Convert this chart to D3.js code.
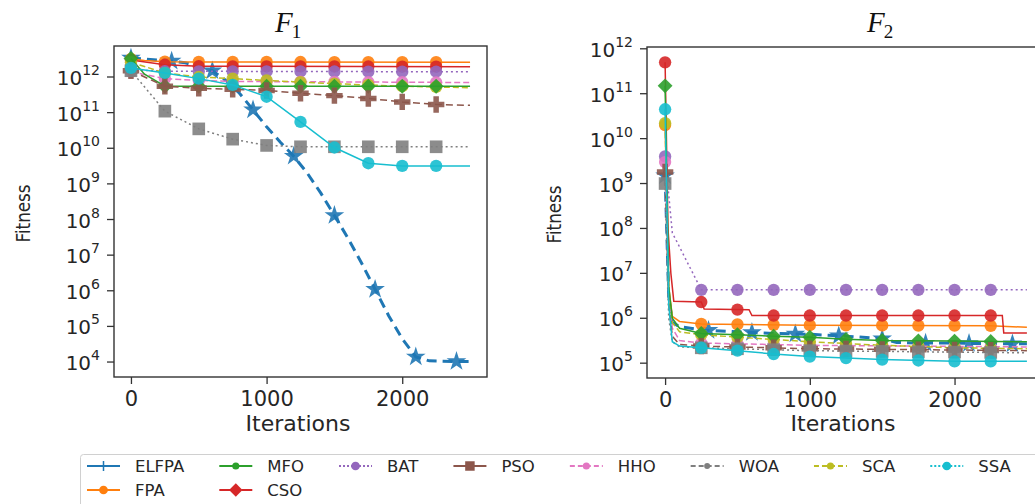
<!DOCTYPE html>
<html>
<head>
<meta charset="utf-8">
<script src="https://cdn.jsdelivr.net/npm/d3@7"></script>
<style>
body{margin:0;background:#fff;}
text{fill:#262626;}
</style>
</head>
<body>
<svg id="chart" width="1035" height="504" font-family="DejaVu Sans, sans-serif"></svg>
<script>
// algorithm names, in legend order
var algorithms = ["ELFPA","FPA","MFO","CSO","BAT","PSO","HHO","WOA","SCA","SSA"];
var xTicks = [0, 1000, 2000];
var f1Exponents = [4,5,6,7,8,9,10,11,12];
var f2Exponents = [5,6,7,8,9,10,11,12];

// F1 convergence curves: [iteration, fitness]
var f1ELFPA = [[0,3.4e12],[100,3.2e12],[200,3.0e12],[300,2.8e12],[400,2.5e12],[500,2.0e12],[600,1.5e12],[700,8e11],[800,3.5e11],[900,1.2e11],[1000,4e10],[1100,1.5e10],[1200,6e9],[1300,2e9],[1400,5.5e8],[1500,1.3e8],[1600,3e7],[1700,6e6],[1800,1.1e6],[1900,2e5],[2000,4.5e4],[2100,1.4e4],[2200,1.08e4],[2300,1.05e4],[2400,1.04e4],[2500,1.04e4]];
var f1FPA = [[0,3.2e12],[100,2.9e12],[250,2.7e12],[500,2.65e12],[2500,2.6e12]];
var f1MFO = [[0,3.3e12],[100,1.2e12],[250,5.5e11],[2500,5.5e11]];
var f1CSO = [[0,3.0e12],[250,2.2e12],[500,2.0e12],[2500,1.95e12]];
var f1BAT = [[0,1.6e12],[250,1.45e12],[2500,1.4e12]];
var f1PSO = [[0,1.5e12],[250,5.5e11],[500,4.8e11],[750,4.5e11],[1000,4.2e11],[1250,3.5e11],[1500,3e11],[1750,2.5e11],[2000,2e11],[2250,1.7e11],[2500,1.6e11]];
var f1HHO = [[0,1.4e12],[250,9e11],[500,8e11],[750,7.5e11],[2500,7e11]];
var f1WOA = [[0,1.5e12],[250,1.1e11],[500,3.5e10],[750,1.8e10],[1000,1.2e10],[1250,1.1e10],[2500,1.1e10]];
var f1SCA = [[0,2.6e12],[250,1.3e12],[500,1.0e12],[750,9e11],[1000,8e11],[1500,6.5e11],[2000,5.5e11],[2500,5e11]];
var f1SSA = [[0,1.8e12],[250,1.3e12],[500,9e11],[750,6e11],[1000,2.8e11],[1250,5.5e10],[1500,1.05e10],[1750,3.8e9],[2000,3.2e9],[2500,3.2e9]];

// F2 convergence curves
var f2ELFPA = [[0,1.5e9],[25,3e6],[50,8e5],[100,6.5e5],[250,5.5e5],[500,5e5],[750,4.6e5],[1000,4.4e5],[1250,4e5],[1500,3.5e5],[1600,2.9e5],[1750,2.8e5],[2000,2.8e5],[2250,2.7e5],[2500,2.7e5]];
var f2FPA = [[0,2e10],[25,5e6],[50,1.1e6],[100,8.5e5],[250,7.5e5],[1000,7e5],[2250,6.8e5],[2400,6.5e5],[2500,6.3e5]];
var f2MFO = [[0,1.5e11],[25,5e6],[50,1e6],[100,6e5],[250,4.6e5],[500,4.3e5],[750,4e5],[1000,3.8e5],[1250,3.4e5],[1500,3.2e5],[2000,3.1e5],[2500,3e5]];
var f2CSO = [[0,5e11],[20,1e8],[40,1e7],[60,2.4e6],[250,2.3e6],[270,1.6e6],[580,1.55e6],[600,1.15e6],[2330,1.15e6],[2340,4.7e5],[2500,4.7e5]];
var f2BAT = [[0,4e9],[50,8e7],[250,4.3e6],[2500,4.3e6]];
var f2PSO = [[0,1.8e9],[25,2e6],[50,4e5],[100,2.6e5],[250,2.4e5],[1000,2.1e5],[2500,1.9e5]];
var f2HHO = [[0,3e9],[25,4e6],[50,6e5],[100,3.2e5],[250,2.8e5],[1000,2.5e5],[2500,2.3e5]];
var f2WOA = [[0,1e9],[25,1e6],[50,3e5],[100,2.3e5],[250,2.2e5],[1000,1.9e5],[2500,1.7e5]];
var f2SCA = [[0,2.2e10],[25,3e6],[50,8e5],[100,5e5],[250,4.3e5],[500,3.8e5],[1000,3e5],[1500,2.5e5],[2000,2.2e5],[2500,2.1e5]];
var f2SSA = [[0,4.5e10],[25,2e6],[50,3e5],[100,2.4e5],[250,2.2e5],[500,1.9e5],[750,1.6e5],[1000,1.4e5],[1250,1.3e5],[1500,1.2e5],[2000,1.1e5],[2500,1.1e5]];

var f1Series = [f1ELFPA,f1FPA,f1MFO,f1CSO,f1BAT,f1PSO,f1HHO,f1WOA,f1SCA,f1SSA];
var f2Series = [f2ELFPA,f2FPA,f2MFO,f2CSO,f2BAT,f2PSO,f2HHO,f2WOA,f2SCA,f2SSA];

// look of each algorithm (plot + legend)
var styles = {
  ELFPA:{color:"#1f77b4", dash:"10,6", width:3,   marker:"star",    every:300, lDash:null,    lMarker:"vline"},
  FPA:  {color:"#ff7f0e", dash:null,   width:1.5, marker:"circle",  every:250, lDash:null,    lMarker:"circle"},
  MFO:  {color:"#2ca02c", dash:null,   width:1.5, marker:"diamond", every:250, lDash:null,    lMarker:"smallcircle"},
  CSO:  {color:"#d62728", dash:null,   width:1.5, marker:"circle",  every:250, lDash:"14,3,2,3", lMarker:"diamond"},
  BAT:  {color:"#9467bd", dash:"2,3",  width:1.5, marker:"circle",  every:250, lDash:"2,2",   lMarker:"circle"},
  PSO:  {color:"#8c564b", dash:"7,4",  width:1.5, marker:"plus",    every:250, lDash:null,    lMarker:"square"},
  HHO:  {color:"#e377c2", dash:"6,3",  width:1.5, marker:"circle",  every:250, lDash:"5,3",   lMarker:"smallcircle"},
  WOA:  {color:"#7f7f7f", dash:"2,3",  width:1.5, marker:"square",  every:250, lDash:"5,3",   lMarker:"tinycircle"},
  SCA:  {color:"#bcbd22", dash:"6,3",  width:1.5, marker:"circle",  every:250, lDash:"5,3",   lMarker:"smallcircle"},
  SSA:  {color:"#17becf", dash:null,   width:1.5, marker:"circle",  every:250, lDash:"2,2",   lMarker:"circle"}
};
var drawOrder = ["ELFPA","FPA","CSO","BAT","HHO","SCA","MFO","PSO","WOA","SSA"];

var svg = d3.select("#chart");

var symbolPath = function(shape){
  if(shape=="circle") return d3.symbol(d3.symbolCircle, 120)();
  if(shape=="smallcircle") return d3.symbol(d3.symbolCircle, 44)();
  if(shape=="tinycircle") return d3.symbol(d3.symbolCircle, 30)();
  if(shape=="square") return d3.symbol(d3.symbolSquare, 160)();
  if(shape=="diamond") return d3.symbol(d3.symbolSquare, 110)();
  if(shape=="plus") return d3.symbol(d3.symbolCross, 150)();
  if(shape=="star") return d3.symbol(d3.symbolStar, 120)();
  return "M0,-5V5";
};

// position on a curve at a given iteration (for markevery style markers)
var valueAt = function(series, it){
  for(var k=1;k<series.length;k++){
    if(it<=series[k][0]){
      var a=series[k-1], b=series[k];
      var t=(it-a[0])/(b[0]-a[0]);
      return Math.pow(10, Math.log10(a[1])+t*(Math.log10(b[1])-Math.log10(a[1])));
    }
  }
  return series[series.length-1][1];
};

var drawPanel = function(cfg){
  var g = svg.append("g").attr("class","panel");
  var x = d3.scaleLinear().domain([-125,2625]).range([cfg.left,cfg.right]);
  var y = d3.scaleLog().domain(cfg.yDomain).range([cfg.bottom,cfg.top]);

  g.append("clipPath").attr("id",cfg.id+"-clip")
    .append("rect").attr("x",cfg.left).attr("y",cfg.top)
    .attr("width",cfg.right-cfg.left).attr("height",cfg.bottom-cfg.top);

  var plot = g.append("g").attr("clip-path","url(#"+cfg.id+"-clip)");
  var line = d3.line().x(function(d){return x(d[0]);}).y(function(d){return y(d[1]);});

  drawOrder.forEach(function(name){
    var st = styles[name];
    var data = cfg.series[algorithms.indexOf(name)];
    plot.append("path")
      .datum(data)
      .attr("d", line)
      .attr("fill","none")
      .attr("stroke", st.color)
      .attr("stroke-width", st.width)
      .attr("stroke-dasharray", st.dash);
    var marks = d3.range(0, 2500, st.every).map(function(it){ return [it, valueAt(data,it)]; });
    plot.selectAll(".m-"+name)
      .data(marks)
      .enter()
      .append("path")
      .attr("class","m-"+name)
      .attr("d", symbolPath(st.marker))
      .attr("transform", function(d){
        return "translate("+x(d[0])+","+y(d[1])+")"+(st.marker=="diamond"?" rotate(45)":"");
      })
      .attr("fill", st.color)
      .attr("fill-opacity",0.9);
  });

  // frame
  g.append("rect").attr("x",cfg.left).attr("y",cfg.top)
    .attr("width",cfg.right-cfg.left).attr("height",cfg.bottom-cfg.top)
    .attr("fill","none").attr("stroke","#333").attr("stroke-width",1.4);

  // x axis
  var xAxis = g.append("g").attr("transform","translate(0,"+cfg.bottom+")")
    .call(d3.axisBottom(x).tickValues(xTicks).tickSize(7).tickPadding(7).tickFormat(d3.format("d")));
  xAxis.select(".domain").remove();
  xAxis.selectAll("line").attr("stroke","#333").attr("stroke-width",1.3);
  xAxis.selectAll("text").attr("font-size",21).attr("font-family","DejaVu Sans").attr("fill","#262626");

  // y axis with 10^n labels
  var ticks = g.selectAll(".ytick-"+cfg.id)
    .data(cfg.exponents)
    .enter()
    .append("g")
    .attr("class","ytick-"+cfg.id)
    .attr("transform", function(d){ return "translate("+cfg.left+","+y(Math.pow(10,d))+")"; });
  ticks.append("line").attr("x1",-7).attr("x2",0).attr("stroke","#333").attr("stroke-width",1.3);
  var lab = ticks.append("text").attr("x",-14).attr("y",8).attr("text-anchor","end").attr("font-size",20);
  lab.append("tspan").text("10");
  lab.append("tspan").attr("font-size",14).attr("dy",-10).text(function(d){return d;});

  g.append("text")
    .attr("transform","translate("+cfg.ylabelX+","+((cfg.top+cfg.bottom)/2+2)+") rotate(-90)")
    .attr("text-anchor","middle")
    .attr("font-size",20)
    .attr("textLength",58).attr("lengthAdjust","spacingAndGlyphs")
    .text("Fitness");
  g.append("text")
    .attr("x", cfg.xlabelX).attr("y",431)
    .attr("text-anchor","middle")
    .attr("font-size",22)
    .text("Iterations");

  // title F_n
  var t = g.append("text").attr("x",cfg.titleX).attr("y",32)
    .attr("font-family","Liberation Serif, serif").attr("font-size",29).style("fill","#111");
  t.append("tspan").attr("font-style","italic").text("F");
  t.append("tspan").attr("font-size",19).attr("dy",6).attr("dx",-1).text(cfg.titleSub);
};

drawPanel({id:"f1", left:114, right:487, top:46, bottom:377, yDomain:[Math.pow(10,3.58),Math.pow(10,12.87)],
  exponents:f1Exponents, series:f1Series, ylabelX:30, xlabelX:298, titleX:275, titleSub:"1"});
drawPanel({id:"f2", left:647, right:1045, top:47, bottom:378, yDomain:[Math.pow(10,4.67),Math.pow(10,12.04)],
  exponents:f2Exponents, series:f2Series, ylabelX:561, xlabelX:843, titleX:867, titleSub:"2"});

// legend: 8 columns, column-major fill
var legend = svg.append("g").attr("class","legend");
legend.append("rect").attr("x",80.5).attr("y",454.5).attr("width",1000).attr("height",60)
  .attr("rx",3).attr("fill","#fff").attr("stroke","#d0d0d0").attr("stroke-width",1);

var ncol = 8, extra = algorithms.length % ncol;
var colItems = [], idx = 0;
for(var c=0;c<ncol;c++){
  var n = Math.floor(algorithms.length/ncol) + (c<extra?1:0);
  colItems.push(algorithms.slice(idx, idx+n));
  idx += n;
}
var colX = 87;
colItems.forEach(function(items){
  var maxW = 0;
  items.forEach(function(name, row){
    var st = styles[name];
    var cy = 466 + row*24;
    var e = legend.append("g");
    e.append("line").attr("x1",colX).attr("x2",colX+33).attr("y1",cy).attr("y2",cy)
      .attr("stroke",st.color).attr("stroke-width",2).attr("stroke-dasharray",st.lDash);
    if(st.lMarker=="vline"){
      e.append("line").attr("x1",colX+16.5).attr("x2",colX+16.5).attr("y1",cy-5).attr("y2",cy+5)
        .attr("stroke",st.color).attr("stroke-width",1.5);
    } else {
      e.append("path").attr("d",
          st.lMarker=="circle"?d3.symbol(d3.symbolCircle,60)():
          st.lMarker=="smallcircle"?d3.symbol(d3.symbolCircle,40)():
          st.lMarker=="tinycircle"?d3.symbol(d3.symbolCircle,28)():
          d3.symbol(d3.symbolSquare,90)())
        .attr("transform","translate("+(colX+16.5)+","+cy+")"+(st.lMarker=="diamond"?" rotate(45)":""))
        .attr("fill",st.color);
    }
    var txt = e.append("text").attr("x",colX+48).attr("y",cy+6).attr("font-size",16.5).text(name);
    maxW = Math.max(maxW, txt.node().getComputedTextLength());
  });
  colX = colX + 48 + maxW + 35;
});
</script>
</body>
</html>
